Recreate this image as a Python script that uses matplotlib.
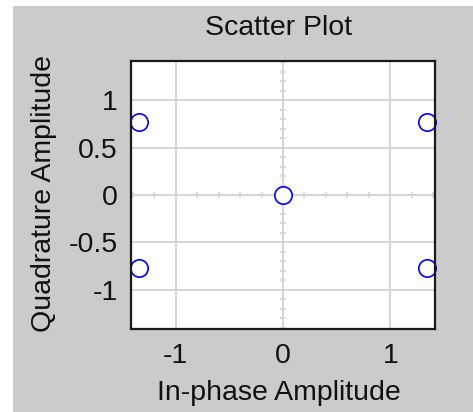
import numpy as np
import matplotlib
matplotlib.use("Agg")
import matplotlib.pyplot as plt
from matplotlib.patches import Rectangle

# Constellation points (in-phase, quadrature)
in_phase = [-1.34, 1.34, 0.0, -1.34, 1.34]
quadrature = [0.77, 0.77, 0.0, -0.77, -0.77]

x_ticks = [-1, 0, 1]
x_ticklabels = ["-1", "0", "1"]
y_ticks = [-1, -0.5, 0, 0.5, 1]
y_ticklabels = ["-1", "-0.5", "0", "0.5", "1"]
limit = np.sqrt(2)

plt.rcParams["font.family"] = ["Liberation Sans", "DejaVu Sans"]
FS = 20.5
PANEL = "#cbcbcb"
GRID = "#d2d2d2"

fig = plt.figure(figsize=(4.73, 4.12), dpi=100, facecolor="white")
fig.patches.append(Rectangle((13 / 473, 0), 1, 1 - 6 / 412, transform=fig.transFigure,
                             facecolor=PANEL, edgecolor="none", zorder=-10))

ax = fig.add_axes([131 / 473, 1 - 329 / 412, 304 / 473, 268 / 412])
ax.set_facecolor("white")
ax.set_xlim(-limit, limit)
ax.set_ylim(-limit, limit)

# Grid lines
for v in x_ticks:
    ax.axvline(v, color=GRID, lw=1.3, zorder=1)
for v in y_ticks:
    ax.axhline(v, color=GRID, lw=1.3, zorder=1)

# Small ticks along the zero lines
xt = np.round(np.arange(-1.4, 1.41, 0.2), 2)
xt = xt[np.abs(xt - np.round(xt)) > 1e-6]
ax.plot(xt, np.zeros_like(xt), ls="none", marker="|", ms=5, mew=1.1, color=GRID, zorder=1)
yt = np.round(np.arange(-1.4, 1.41, 0.1), 2)
yt = yt[np.abs(yt * 2 - np.round(yt * 2)) > 1e-6]
ax.plot(np.zeros_like(yt), yt, ls="none", marker="_", ms=5, mew=1.1, color=GRID, zorder=1)

ax.plot(in_phase, quadrature, ls="none", marker="o", ms=12.5, mfc="white",
        mec="#0000ff", mew=1.2, zorder=3, clip_on=False)

for s in ax.spines.values():
    s.set_linewidth(1.6)
    s.set_color("#1a1a1a")
    s.set_zorder(4)

ax.set_xticks(x_ticks)
ax.set_xticklabels(x_ticklabels)
ax.set_yticks(y_ticks)
ax.set_yticklabels(y_ticklabels)
ax.tick_params(axis="both", length=0, labelsize=FS, colors="#111111")
ax.tick_params(axis="x", pad=10)
ax.tick_params(axis="y", pad=9.4)

ax.set_title("Scatter Plot", fontsize=FS, color="#111111", pad=18.7, x=0.487)
ax.set_xlabel("In-phase Amplitude", fontsize=FS, color="#111111")
ax.xaxis.set_label_coords(0.487, -0.19)
ax.set_ylabel("Quadrature Amplitude", fontsize=FS, color="#111111")
ax.yaxis.set_label_coords(-0.243, 0.507)

fig.savefig("out.png", dpi=100, facecolor=fig.get_facecolor())
